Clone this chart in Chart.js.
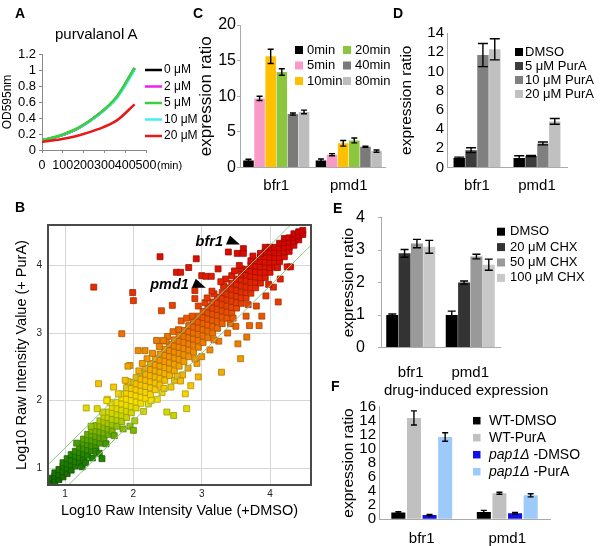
<!DOCTYPE html>
<html>
<head>
<meta charset="utf-8">
<script src="https://cdn.jsdelivr.net/npm/chart.js@4.4.0/dist/chart.umd.min.js"></script>
<style>
  body { margin: 0; background: #fff; width: 600px; height: 546px; position: relative; overflow: hidden;
         font-family: 'Liberation Sans', Arial, sans-serif; }
  canvas { position: absolute; }
  .lbl { position: absolute; line-height: 1; white-space: nowrap; color: #000; }
  .tag { font-weight: bold; font-size: 14px; }
</style>
</head>
<body>
<canvas id="chartA" style="left:0;top:0;width:200px;height:190px" width="200" height="190"></canvas>
<canvas id="chartB" style="left:0;top:200px;width:330px;height:325px" width="330" height="325"></canvas>
<canvas id="chartC" style="left:196px;top:0;width:204px;height:196px" width="204" height="196"></canvas>
<canvas id="chartD" style="left:396px;top:0;width:204px;height:196px" width="204" height="196"></canvas>
<canvas id="chartE" style="left:330px;top:195px;width:270px;height:185px" width="270" height="185"></canvas>
<canvas id="chartF" style="left:330px;top:380px;width:270px;height:166px" width="270" height="166"></canvas>

<div class="lbl tag" style="left:15px;top:6px">A</div>
<div class="lbl tag" style="left:193px;top:6px">C</div>
<div class="lbl tag" style="left:393px;top:6px">D</div>
<div class="lbl tag" style="left:15px;top:200px">B</div>
<div class="lbl tag" style="left:333px;top:201px">E</div>
<div class="lbl tag" style="left:331px;top:379px">F</div>
<div class="lbl" style="left:55px;top:26px;font-size:15px">purvalanol A</div>
<div class="lbl" style="left:157px;top:160px;font-size:11px">(min)</div>
<div class="lbl" style="left:384px;top:382px;font-size:15px">drug-induced expression</div>

<script>
// ---- A: growth curves (OD595nm vs min)
const aTimes = [0, 90, 180, 270, 360, 445]
const aDoses = ['0 μM', '2 μM', '5 μM', '10 μM', '20 μM']
const aOD0 = [0.12, 0.18, 0.28, 0.44, 0.66, 1.02]
const aOD2 = [0.12, 0.18, 0.28, 0.44, 0.66, 1.02]
const aOD5 = [0.12, 0.185, 0.285, 0.445, 0.67, 1.03]
const aOD10 = [0.12, 0.18, 0.28, 0.435, 0.65, 1.0]
const aOD20 = [0.10, 0.135, 0.185, 0.26, 0.37, 0.57]
const aXTicks = [0, 100, 200, 300, 400, 500]
const aYTicks = [0, 0.2, 0.4, 0.6, 0.8, 1, 1.2]

// ---- B: scatter of log10 intensities (+DMSO, +PurA)
// dense band, one column per entry: [x, y, y, ...]
const bBandCols = [
  [0.80, 0.78, 0.85], [0.85, 0.80, 0.88, 0.93], [0.91, 0.83, 0.90, 0.98],
  [0.97, 0.87, 0.95, 1.03, 1.08], [1.03, 0.92, 1.00, 1.07, 1.14], [1.09, 0.97, 1.05, 1.12, 1.20],
  [1.15, 1.03, 1.10, 1.18, 1.25], [1.21, 1.08, 1.16, 1.23, 1.31], [1.27, 1.13, 1.21, 1.29, 1.37, 1.43],
  [1.33, 1.19, 1.27, 1.35, 1.42, 1.50], [1.39, 1.26, 1.33, 1.41, 1.49, 1.56], [1.45, 1.31, 1.39, 1.47, 1.55, 1.63],
  [1.51, 1.37, 1.45, 1.53, 1.62, 1.70], [1.57, 1.44, 1.52, 1.60, 1.68, 1.76], [1.63, 1.50, 1.58, 1.66, 1.75, 1.83],
  [1.69, 1.55, 1.64, 1.72, 1.81, 1.90], [1.76, 1.62, 1.71, 1.79, 1.88, 1.97], [1.83, 1.69, 1.78, 1.86, 1.95, 2.04, 2.10],
  [1.90, 1.75, 1.84, 1.93, 2.02, 2.11, 2.19], [1.97, 1.82, 1.91, 2.00, 2.09, 2.18, 2.27], [2.04, 1.89, 1.98, 2.07, 2.16, 2.25, 2.34],
  [2.11, 1.96, 2.05, 2.14, 2.23, 2.32, 2.41], [2.18, 2.03, 2.12, 2.21, 2.30, 2.39, 2.48], [2.25, 2.09, 2.19, 2.28, 2.37, 2.46, 2.55],
  [2.32, 2.16, 2.26, 2.35, 2.44, 2.53, 2.62], [2.39, 2.23, 2.33, 2.42, 2.51, 2.60, 2.69], [2.46, 2.30, 2.40, 2.49, 2.58, 2.67, 2.76],
  [2.53, 2.37, 2.47, 2.56, 2.65, 2.74, 2.83], [2.60, 2.44, 2.54, 2.63, 2.72, 2.81, 2.90], [2.67, 2.51, 2.61, 2.70, 2.79, 2.88, 2.97],
  [2.74, 2.58, 2.68, 2.77, 2.86, 2.95, 3.04], [2.81, 2.65, 2.75, 2.84, 2.93, 3.02, 3.11], [2.88, 2.72, 2.82, 2.91, 3.00, 3.09, 3.18],
  [2.95, 2.79, 2.89, 2.98, 3.07, 3.16, 3.25], [3.02, 2.86, 2.96, 3.05, 3.14, 3.23, 3.32], [3.09, 2.93, 3.03, 3.12, 3.21, 3.30, 3.39],
  [3.16, 3.00, 3.10, 3.19, 3.28, 3.37, 3.46], [3.23, 3.07, 3.17, 3.26, 3.35, 3.44, 3.53], [3.30, 3.14, 3.24, 3.33, 3.42, 3.51, 3.60],
  [3.37, 3.22, 3.31, 3.40, 3.49, 3.58, 3.67], [3.44, 3.29, 3.38, 3.47, 3.56, 3.65, 3.74], [3.51, 3.37, 3.45, 3.54, 3.63, 3.72, 3.80],
  [3.58, 3.44, 3.52, 3.61, 3.70, 3.79, 3.87], [3.65, 3.52, 3.60, 3.68, 3.77, 3.86, 3.94], [3.72, 3.59, 3.67, 3.75, 3.84, 3.92, 4.00],
  [3.79, 3.67, 3.75, 3.83, 3.91, 3.99, 4.07], [3.86, 3.74, 3.82, 3.90, 3.98, 4.06, 4.13], [3.93, 3.82, 3.90, 3.98, 4.05, 4.13, 4.20],
  [4.00, 3.90, 3.97, 4.05, 4.12, 4.20, 4.27], [4.07, 3.98, 4.05, 4.12, 4.19, 4.27], [4.14, 4.06, 4.12, 4.19, 4.26, 4.33],
  [4.21, 4.13, 4.20, 4.27, 4.34, 4.40], [4.28, 4.21, 4.28, 4.35, 4.41], [4.35, 4.30, 4.36, 4.42, 4.47],
  [4.42, 4.38, 4.44, 4.50], [4.48, 4.46, 4.52]
]
// loose points around the band
const bScatter = [
  [1.17, 1.37], [1.25, 1.02], [1.38, 1.62], [1.45, 1.25], [1.55, 1.83], [1.60, 1.36], [1.66, 1.97], [1.72, 1.48],
  [1.78, 2.10], [1.85, 1.58], [1.62, 2.02], [1.92, 2.28], [1.95, 1.62], [2.02, 1.70], [2.08, 2.44], [2.15, 1.84],
  [2.22, 1.95], [2.28, 2.70], [2.35, 2.02], [2.42, 2.12], [2.48, 2.88], [2.55, 2.20], [2.60, 2.30], [2.66, 3.05],
  [2.72, 2.38], [2.80, 2.48], [2.86, 3.25], [2.93, 2.55], [3.00, 2.65], [3.05, 3.45], [3.12, 2.75], [3.18, 3.58],
  [3.25, 2.88], [3.32, 3.70], [3.38, 3.00], [3.44, 3.85], [3.50, 3.10], [3.58, 3.95], [3.65, 3.25], [3.72, 4.07],
  [3.80, 3.40], [3.86, 4.18], [3.94, 3.55], [4.05, 3.68], [4.15, 3.80], [4.25, 3.98], [2.20, 2.62], [2.50, 2.95],
  [2.70, 3.18], [2.95, 3.40], [3.15, 3.62], [3.35, 3.80], [3.55, 4.00], [1.40, 1.15], [1.50, 1.22], [1.30, 1.08],
  [1.88, 2.30], [2.13, 2.55], [2.38, 2.80], [2.58, 3.02], [2.78, 3.22], [3.08, 3.52], [3.28, 3.76], [3.48, 3.92],
  [2.26, 2.00], [2.45, 2.18], [2.64, 2.36], [2.90, 2.62], [3.18, 2.90], [3.42, 3.14], [3.68, 3.42], [3.98, 3.72]
]
// clear outliers
const bOutliers = [
  [1.42, 3.68], [2.39, 4.13], [1.99, 3.60], [2.00, 3.48], [1.83, 2.99], [1.49, 2.25], [1.31, 1.89], [1.47, 1.88],
  [1.54, 1.14], [2.41, 3.33], [2.57, 3.41], [2.63, 3.90], [2.69, 3.90], [2.81, 3.97], [2.92, 4.10], [2.90, 3.63],
  [2.90, 3.51], [3.00, 3.85], [3.06, 3.84], [3.14, 3.84], [3.39, 4.20], [3.52, 4.18], [3.61, 4.25], [3.61, 4.18],
  [3.24, 3.95], [3.75, 4.14], [3.93, 4.27], [4.12, 3.46], [4.30, 3.98], [4.11, 3.97], [3.57, 2.62], [3.66, 2.94],
  [3.53, 2.84], [3.29, 2.42], [2.95, 2.35], [2.84, 2.22], [2.69, 2.29], [2.78, 1.88], [2.59, 1.78], [2.49, 1.83],
  [2.76, 2.10], [2.00, 1.56], [1.61, 2.00], [1.71, 2.20], [1.95, 2.52], [2.17, 2.74], [2.34, 2.89], [2.44, 2.89],
  [1.92, 2.51], [2.07, 2.74], [3.84, 3.11], [3.70, 3.11], [3.88, 3.25], [3.46, 3.22]
]
const bFoldUp = [[0.75, 1.05], [4.6, 4.9]]
const bFoldDown = [[1.05, 0.75], [4.9, 4.6]]
const bTicks = [1, 2, 3, 4]
const bMarks = [['bfr1', 3.56, 4.31], ['pmd1', 3.06, 3.67]]

// ---- C: time course after PurA
const cCats = ['bfr1', 'pmd1']
const cSeries = ['0min', '5min', '10min', '20min', '40min', '80min']
const cBfr1 = [1.0, 9.7, 15.6, 13.4, 7.5, 7.8]
const cBfr1Err = [0.15, 0.3, 1.0, 0.45, 0.15, 0.25]
const cPmd1 = [1.0, 1.8, 3.4, 3.8, 2.9, 2.3]
const cPmd1Err = [0.2, 0.15, 0.4, 0.35, 0.08, 0.15]
const cTicks = [0, 5, 10, 15, 20]

// ---- D: PurA dose
const dSeries = ['DMSO', '5 μM PurA', '10 μM PurA', '20 μM PurA']
const dBfr1 = [1.0, 1.8, 11.7, 12.3]
const dBfr1Err = [0.08, 0.25, 1.2, 1.1]
const dPmd1 = [1.0, 1.2, 2.5, 4.8]
const dPmd1Err = [0.22, 0.05, 0.15, 0.3]
const dTicks = [0, 2, 4, 6, 8, 10, 12, 14]

// ---- E: CHX dose
const eSeries = ['DMSO', '20 μM CHX', '50 μM CHX', '100 μM CHX']
const eBfr1 = [1.0, 2.9, 3.2, 3.1]
const eBfr1Err = [0.03, 0.12, 0.13, 0.2]
const ePmd1 = [1.0, 2.0, 2.8, 2.55]
const ePmd1Err = [0.12, 0.05, 0.07, 0.17]
const eTicks = [0, 1, 2, 3, 4]

// ---- F: WT vs pap1 deletion
const fSeries = ['WT-DMSO', 'WT-PurA', 'pap1Δ -DMSO', 'pap1Δ -PurA']
const fBfr1 = [0.95, 14.4, 0.6, 11.7]
const fBfr1Err = [0.12, 1.0, 0.1, 0.6]
const fPmd1 = [1.05, 3.7, 0.85, 3.4]
const fPmd1Err = [0.22, 0.15, 0.12, 0.22]
const fTicks = [0, 2, 4, 6, 8, 10, 12, 14, 16]

const FONT = "'Liberation Sans', Arial, sans-serif"
Chart.defaults.font.family = FONT
Chart.defaults.color = '#000'
Chart.defaults.animation = false
Chart.defaults.responsive = false
Chart.defaults.plugins.legend.display = false
Chart.defaults.plugins.tooltip.enabled = false

const fixW = w => s => { s.width = w }
const fixH = h => s => { s.height = h }
const useTicks = arr => s => { s.ticks = arr.map(v => ({ value: v })) }

// legend drawn at fixed spots (items in columns)
const boxLegend = {
  id: 'boxLegend',
  afterDraw(chart, args, o) {
    if (!o || o.x === undefined) return
    const ctx = chart.ctx
    ctx.save()
    ctx.textBaseline = 'middle'
    chart.data.datasets.forEach((ds, i) => {
      const col = Math.floor(i / o.rows), row = i % o.rows
      const x = o.x + col * (o.colW || 0), y = o.y + row * o.rowH
      let tx
      if (o.line) {
        ctx.strokeStyle = ds.borderColor
        ctx.lineWidth = 2.5
        ctx.beginPath(); ctx.moveTo(x, y); ctx.lineTo(x + o.line, y); ctx.stroke()
        tx = x + o.line + o.gap
      } else {
        ctx.fillStyle = ds.backgroundColor
        ctx.fillRect(x, y - o.box / 2, o.box, o.box)
        tx = x + o.box + o.gap
      }
      ctx.fillStyle = '#000'
      let label = ds.label
      if (o.italic && label.startsWith(o.italic)) {
        ctx.font = 'italic ' + o.font
        ctx.fillText(o.italic, tx, y)
        tx += ctx.measureText(o.italic).width
        label = label.slice(o.italic.length)
      }
      ctx.font = o.font
      ctx.fillText(label, tx, y)
    })
    ctx.restore()
  }
}

const errorBars = {
  id: 'errorBars',
  afterDatasetsDraw(chart, args, o) {
    const ctx = chart.ctx, y = chart.scales.y, cap = (o && o.cap) || 3
    ctx.save()
    ctx.strokeStyle = '#000'
    ctx.lineWidth = 1.4
    chart.data.datasets.forEach((ds, i) => {
      if (!ds.err) return
      chart.getDatasetMeta(i).data.forEach((bar, j) => {
        const top = y.getPixelForValue(ds.data[j] + ds.err[j])
        const bot = y.getPixelForValue(ds.data[j] - ds.err[j])
        ctx.beginPath()
        ctx.moveTo(bar.x, top); ctx.lineTo(bar.x, bot)
        ctx.moveTo(bar.x - cap, top); ctx.lineTo(bar.x + cap, top)
        ctx.moveTo(bar.x - cap, bot); ctx.lineTo(bar.x + cap, bot)
        ctx.stroke()
      })
    })
    ctx.restore()
  }
}

// ---------- A
const aColors = ['#000000', '#ee22ee', '#3ccf3c', '#44eeee', '#e81818']
const aSets = [aOD0, aOD2, aOD5, aOD10, aOD20]
const aOrder = [4, 3, 1, 2, 0]
new Chart(document.getElementById('chartA'), {
  type: 'line',
  data: {
    datasets: aDoses.map((d, i) => ({
      label: d,
      data: aTimes.map((t, k) => ({ x: t, y: aSets[i][k] })),
      borderColor: aColors[i],
      borderWidth: 2.5,
      pointRadius: 0,
      cubicInterpolationMode: 'monotone',
      order: aOrder[i]
    }))
  },
  options: {
    layout: { padding: { top: 54, right: 54, left: 0, bottom: 0 } },
    plugins: {
      boxLegend: { x: 145, y: 70, rowH: 16.5, rows: 5, line: 17, gap: 2, font: '12px ' + FONT }
    },
    scales: {
      x: {
        type: 'linear', min: 0, max: 500,
        afterBuildTicks: useTicks(aXTicks), afterFit: fixH(40),
        grid: { drawOnChartArea: false, tickLength: 3, color: '#888' },
        border: { color: '#888' },
        ticks: { font: { size: 12.5 }, padding: 5, maxRotation: 0, autoSkip: false, callback: v => String(v) }
      },
      y: {
        min: 0, max: 1.2,
        afterBuildTicks: useTicks(aYTicks), afterFit: fixW(42),
        grid: { drawOnChartArea: false, tickLength: 3, color: '#888' },
        border: { color: '#888' },
        ticks: { font: { size: 13 }, padding: 3, autoSkip: false, callback: v => String(v) },
        title: { display: true, text: 'OD595nm', font: { size: 12 }, padding: 0 }
      }
    }
  },
  plugins: [boxLegend]
})

// ---------- B
const bStops = [[0.8, [20, 105, 0]], [1.2, [35, 135, 0]], [1.5, [105, 175, 0]], [1.75, [195, 212, 0]],
  [2.0, [248, 224, 0]], [2.3, [245, 188, 0]], [2.7, [240, 142, 0]], [3.1, [236, 100, 0]],
  [3.5, [230, 58, 0]], [3.9, [224, 22, 0]], [4.5, [210, 0, 0]]]
function bColor(v, k) {
  let i = 1
  while (i < bStops.length - 1 && v > bStops[i][0]) i++
  const [v0, c0] = bStops[i - 1], [v1, c1] = bStops[i]
  const t = Math.min(1, Math.max(0, (v - v0) / (v1 - v0)))
  return 'rgb(' + c0.map((c, j) => Math.round((c + (c1[j] - c) * t) * k)).join(',') + ')'
}
const bPoints = []
bBandCols.forEach(col => col.slice(1).forEach(y => bPoints.push({ x: col[0], y })))
bScatter.concat(bOutliers).forEach(([x, y]) => bPoints.push({ x, y }))

const bDecor = {
  id: 'bDecor',
  afterDraw(chart) {
    const { ctx, chartArea: a, scales: { x, y } } = chart
    ctx.save()
    ctx.strokeStyle = '#4a4a4a'
    ctx.lineWidth = 2
    ctx.strokeRect(a.left, a.top, a.right - a.left, a.bottom - a.top)
    ctx.fillStyle = '#000'
    ctx.font = 'italic bold 14.5px ' + FONT
    ctx.textAlign = 'right'
    ctx.textBaseline = 'alphabetic'
    bMarks.forEach(([name, gx, gy]) => {
      const px = x.getPixelForValue(gx), py = y.getPixelForValue(gy)
      ctx.beginPath()
      ctx.moveTo(px - 14, py); ctx.lineTo(px - 10, py - 9); ctx.lineTo(px, py)
      ctx.closePath(); ctx.fill()
      ctx.fillText(name, px - 17, py + 1)
    })
    ctx.restore()
  }
}

const bLine = pts => ({
  type: 'line',
  data: pts.map(([x, y]) => ({ x, y })),
  borderColor: '#86c886', borderWidth: 1, pointRadius: 0, clip: 0, order: 0
})
new Chart(document.getElementById('chartB'), {
  type: 'scatter',
  data: {
    datasets: [
      bLine(bFoldUp),
      bLine(bFoldDown),
      {
        data: bPoints,
        pointStyle: 'rect',
        pointRadius: 4.2,
        borderWidth: 0.8,
        backgroundColor: c => bColor(c.raw.y, 1),
        borderColor: c => bColor(c.raw.y, 0.72),
        clip: 0,
        order: 1
      }
    ]
  },
  options: {
    layout: { padding: { top: 25, right: 19, left: 0, bottom: 0 } },
    scales: {
      x: {
        type: 'linear', min: 0.75, max: 4.6,
        afterBuildTicks: useTicks(bTicks), afterFit: fixH(40),
        grid: { color: '#d6d6d6', drawTicks: false },
        border: { display: false },
        ticks: { font: { size: 10 }, color: '#222', padding: 3, callback: v => String(v) },
        title: { display: true, text: 'Log10 Raw Intensity Value (+DMSO)', font: { size: 14.5 }, padding: { top: 0, bottom: 5 } }
      },
      y: {
        min: 0.75, max: 4.6,
        afterBuildTicks: useTicks(bTicks), afterFit: fixW(48),
        grid: { color: '#d6d6d6', drawTicks: false },
        border: { display: false },
        ticks: { font: { size: 10 }, color: '#222', padding: 6, callback: v => String(v) },
        title: { display: true, text: 'Log10 Raw Intensity Value (+ PurA)', font: { size: 14.5 }, padding: { top: 13, bottom: 0 } }
      }
    }
  },
  plugins: [bDecor]
})

// ---------- bar panels
function barChart(id, o) {
  return new Chart(document.getElementById(id), {
    type: 'bar',
    data: {
      labels: o.cats,
      datasets: o.series.map((name, i) => ({
        label: name,
        data: o.vals.map(v => v[i]),
        err: o.errs.map(e => e[i]),
        backgroundColor: o.colors[i],
        categoryPercentage: o.catPct,
        barPercentage: o.barPct
      }))
    },
    options: {
      layout: { padding: o.pad },
      plugins: { boxLegend: o.legend, errorBars: { cap: o.cap } },
      scales: {
        x: {
          grid: { display: false },
          border: { color: '#aaaaaa' },
          afterFit: fixH(o.xH),
          ticks: { font: { size: o.catFont }, padding: o.xPad }
        },
        y: {
          min: 0, max: o.ticks[o.ticks.length - 1],
          afterBuildTicks: useTicks(o.ticks), afterFit: fixW(o.yW),
          border: { color: '#aaaaaa' },
          grid: { drawOnChartArea: false, drawTicks: o.tickLen > 0, tickLength: o.tickLen, color: '#aaaaaa' },
          ticks: { font: { size: o.tickFont }, padding: o.yPad, autoSkip: false, callback: v => String(v) },
          title: { display: true, text: 'expression ratio', font: { size: o.titleFont }, padding: { top: o.titlePad, bottom: 0 } }
        }
      }
    },
    plugins: [errorBars, boxLegend]
  })
}

barChart('chartC', {
  cats: cCats, series: cSeries, vals: [cBfr1, cPmd1], errs: [cBfr1Err, cPmd1Err],
  colors: ['#000000', '#f79ac8', '#ffc000', '#8cc63e', '#7a7a7a', '#bdbdbd'],
  catPct: 0.92, barPct: 0.95, cap: 3,
  pad: { top: 25, right: 15, left: 0, bottom: 0 },
  xH: 28.5, xPad: 1.5, catFont: 15,
  yW: 44, ticks: cTicks, tickLen: 3, yPad: 1, tickFont: 16, titleFont: 17, titlePad: 0,
  legend: { x: 99, y: 50, rowH: 15.5, rows: 3, colW: 48, box: 8, gap: 4, font: '13px ' + FONT }
})

barChart('chartD', {
  cats: cCats, series: dSeries, vals: [dBfr1, dPmd1], errs: [dBfr1Err, dPmd1Err],
  colors: ['#000000', '#3c3c3c', '#808080', '#c0c0c0'],
  catPct: 0.79, barPct: 0.96, cap: 5,
  pad: { top: 33, right: 33, left: 0, bottom: 0 },
  xH: 28.5, xPad: 1.5, catFont: 15,
  yW: 51, ticks: dTicks, tickLen: 0, yPad: 3, tickFont: 15, titleFont: 15.5, titlePad: 1.7,
  legend: { x: 119, y: 52, rowH: 14, rows: 4, box: 8, gap: 2, font: '13px ' + FONT }
})

barChart('chartE', {
  cats: cCats, series: eSeries, vals: [eBfr1, ePmd1], errs: [eBfr1Err, ePmd1Err],
  colors: ['#000000', '#333333', '#999999', '#c8c8c8'],
  catPct: 0.83, barPct: 0.97, cap: 4,
  pad: { top: 15, right: 100, left: 0, bottom: 0 },
  xH: 32.5, xPad: 8, catFont: 15,
  yW: 51, ticks: eTicks, tickLen: 3, yPad: 13, tickFont: 16, titleFont: 15.5, titlePad: 9,
  legend: { x: 167, y: 36.7, rowH: 15.4, rows: 4, box: 8, gap: 5, font: '13px ' + FONT }
})

barChart('chartF', {
  cats: cCats, series: fSeries, vals: [fBfr1, fPmd1], errs: [fBfr1Err, fPmd1Err],
  colors: ['#000000', '#c0c0c0', '#1010ee', '#9ccafa'],
  catPct: 0.73, barPct: 0.9, cap: 3,
  pad: { top: 26.7, right: 50, left: 0, bottom: 0 },
  xH: 26.7, xPad: 3, catFont: 15,
  yW: 49, ticks: fTicks, tickLen: 0, yPad: 3, tickFont: 15, titleFont: 15.5, titlePad: 9.7,
  legend: { x: 143, y: 40.7, rowH: 17, rows: 4, box: 7.5, gap: 8.5, font: '14px ' + FONT, italic: 'pap1Δ' }
})
</script>
</body>
</html>
